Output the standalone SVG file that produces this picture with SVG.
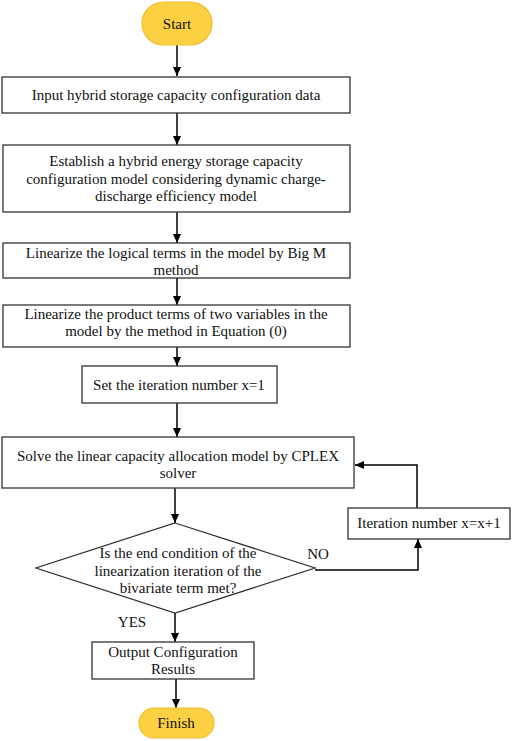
<svg xmlns="http://www.w3.org/2000/svg" width="512" height="741" viewBox="0 0 512 741" font-family="'Liberation Serif', serif">
<defs>
<marker id="ah" markerWidth="10" markerHeight="8" refX="9" refY="4" orient="auto" markerUnits="userSpaceOnUse">
<path d="M0,0 L9,4 L0,8 Z" fill="#000"/>
</marker>
<style>
.box{fill:#fff;stroke:#333;stroke-width:1.3}
.term{fill:#FBD043;stroke:#F0BE2C;stroke-width:1.2}
.t{font-size:15px;fill:#111;text-anchor:middle}
.c{fill:none;stroke:#000;stroke-width:1.5}
</style>
</defs>
<rect width="512" height="741" fill="#fff"/>
<g id="connectors">
<line class="c" x1="177" y1="45" x2="177" y2="76" marker-end="url(#ah)"/>
<line class="c" x1="177" y1="113" x2="177" y2="145" marker-end="url(#ah)"/>
<line class="c" x1="177" y1="212" x2="177" y2="243" marker-end="url(#ah)"/>
<line class="c" x1="177" y1="278" x2="177" y2="305" marker-end="url(#ah)"/>
<line class="c" x1="177" y1="347" x2="177" y2="366" marker-end="url(#ah)"/>
<line class="c" x1="177" y1="403" x2="177" y2="437" marker-end="url(#ah)"/>
<line class="c" x1="175" y1="488" x2="175" y2="523" marker-end="url(#ah)"/>
<polyline class="c" points="315,570 418,570 418,539" marker-end="url(#ah)"/>
<polyline class="c" points="417,508 417,465 355,465" marker-end="url(#ah)"/>
<line class="c" x1="175" y1="613" x2="175" y2="642" marker-end="url(#ah)"/>
<line class="c" x1="176" y1="679" x2="176" y2="708" marker-end="url(#ah)"/>
<text class="t" x="318" y="559">NO</text>
<text class="t" x="132" y="627">YES</text>
</g>
<g id="start">
<rect class="term" x="142" y="2" width="70" height="43" rx="21.5"/>
<text class="t" x="177" y="29">Start</text>
</g>
<g id="input">
<rect class="box" x="2" y="77" width="348" height="36"/>
<text class="t" x="176" y="100">Input hybrid storage capacity configuration data</text>
</g>
<g id="establish">
<rect class="box" x="3" y="145" width="347" height="67"/>
<text class="t" x="176" y="166">Establish a hybrid energy storage capacity</text>
<text class="t" x="176" y="183.5">configuration model considering dynamic charge-</text>
<text class="t" x="176" y="201">discharge efficiency model</text>
</g>
<g id="bigm">
<rect class="box" x="3" y="243" width="347" height="35"/>
<text class="t" x="176" y="258">Linearize the logical terms in the model by Big M</text>
<text class="t" x="176" y="275">method</text>
</g>
<g id="product">
<rect class="box" x="3" y="305" width="347" height="42"/>
<text class="t" x="176" y="319">Linearize the product terms of two variables in the</text>
<text class="t" x="176" y="336">model by the method in Equation (0)</text>
</g>
<g id="setiter">
<rect class="box" x="82" y="366" width="195" height="37"/>
<text class="t" x="179" y="390">Set the iteration number x=1</text>
</g>
<g id="solve">
<rect class="box" x="2" y="437" width="352" height="51"/>
<text class="t" x="178" y="461">Solve the linear capacity allocation model by CPLEX</text>
<text class="t" x="178" y="478">solver</text>
</g>
<g id="decision">
<polygon class="box" points="175,523 315,568 175,613 36,568"/>
<text class="t" x="178" y="558">Is the end condition of the</text>
<text class="t" x="178" y="576">linearization iteration of the</text>
<text class="t" x="178" y="593">bivariate term met?</text>
</g>
<g id="increment">
<rect class="box" x="348" y="508" width="162" height="31"/>
<text class="t" x="429" y="528">Iteration number x=x+1</text>
</g>
<g id="output">
<rect class="box" x="92" y="642" width="162" height="37"/>
<text class="t" x="173" y="657">Output Configuration</text>
<text class="t" x="173" y="674">Results</text>
</g>
<g id="finish">
<rect class="term" x="139" y="708" width="75" height="30" rx="15"/>
<text class="t" x="176" y="728">Finish</text>
</g>
</svg>
